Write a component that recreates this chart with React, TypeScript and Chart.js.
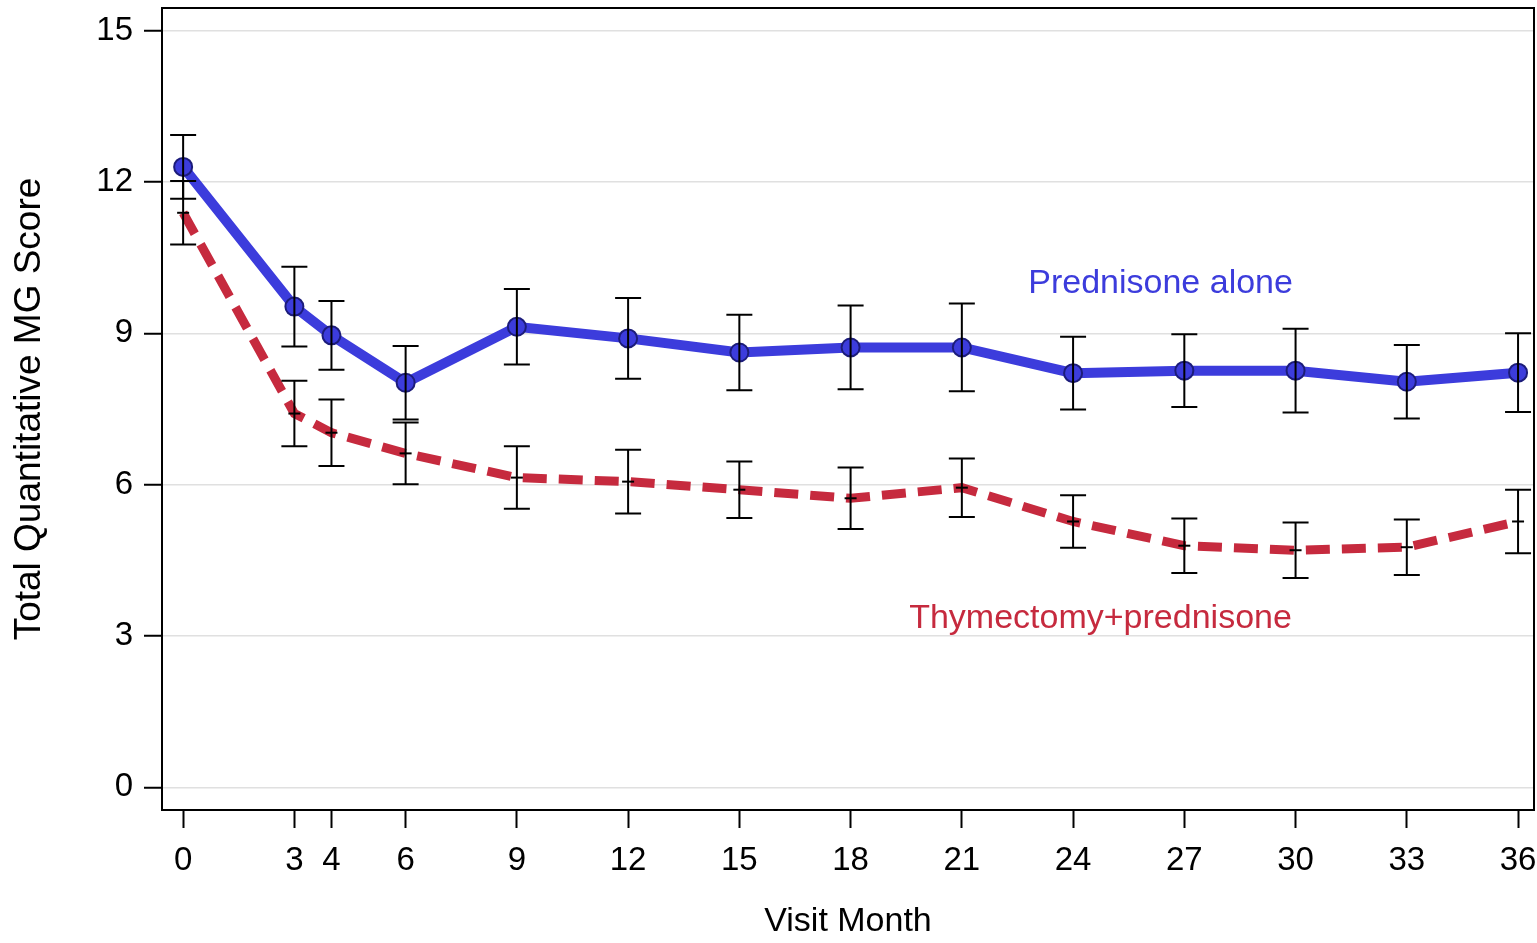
import React, { useEffect, useRef } from "react";
import { Chart, registerables } from "chart.js";

Chart.register(...registerables);

// ---- Data ----
const MONTHS = [0, 3, 4, 6, 9, 12, 15, 18, 21, 24, 27, 30, 33, 36];
const PRED_MEAN = [12.3, 9.53, 8.96, 8.02, 9.13, 8.9, 8.62, 8.72, 8.72, 8.21, 8.26, 8.26, 8.04, 8.22];
const PRED_ERR = [0.63, 0.79, 0.68, 0.73, 0.75, 0.8, 0.75, 0.83, 0.87, 0.72, 0.72, 0.83, 0.73, 0.78];
const THY_MEAN = [11.39, 7.41, 7.03, 6.62, 6.14, 6.06, 5.9, 5.73, 5.94, 5.27, 4.79, 4.7, 4.76, 5.27];
const THY_ERR = [0.63, 0.65, 0.66, 0.61, 0.62, 0.63, 0.56, 0.61, 0.58, 0.52, 0.54, 0.55, 0.55, 0.63];
const X_TICKS = [0, 3, 4, 6, 9, 12, 15, 18, 21, 24, 27, 30, 33, 36];
const Y_TICKS = [0, 3, 6, 9, 12, 15];

const SERIES_NAMES = ["Prednisone alone", "Thymectomy+prednisone"];
const LABEL_X = [26.36, 24.74];
const LABEL_Y = [9.99, 3.35];

const BLUE = "#3c3cdc";
const RED = "#c62a3e";
const FONT = "'Liberation Sans', Arial, sans-serif";

const errorBarPlugin = {
  id: "errorBars",
  afterDatasetsDraw(chart: any) {
    const { ctx, scales } = chart;
    const x = scales.x;
    const y = scales.y;
    ctx.save();
    ctx.strokeStyle = "#000";
    ctx.lineWidth = 2;
    const groups: [number[], number[]][] = [
      [PRED_MEAN, PRED_ERR],
      [THY_MEAN, THY_ERR],
    ];
    groups.forEach(([m, e]) => {
      MONTHS.forEach((mo, i) => {
        const px = x.getPixelForValue(mo);
        const top = y.getPixelForValue(m[i] + e[i]);
        const bot = y.getPixelForValue(m[i] - e[i]);
        ctx.beginPath();
        ctx.moveTo(px, top);
        ctx.lineTo(px, bot);
        ctx.moveTo(px - 13, top);
        ctx.lineTo(px + 13, top);
        ctx.moveTo(px - 13, bot);
        ctx.lineTo(px + 13, bot);
        ctx.stroke();
      });
    });
    ctx.restore();
  },
  afterDraw(chart: any) {
    const { ctx, chartArea, scales } = chart;
    ctx.save();
    ctx.strokeStyle = "#000";
    ctx.lineWidth = 2;
    ctx.strokeRect(chartArea.left, chartArea.top, chartArea.right - chartArea.left, chartArea.bottom - chartArea.top);
    ctx.font = `34px ${FONT}`;
    ctx.textAlign = "center";
    ctx.textBaseline = "middle";
    const colors = [BLUE, RED];
    SERIES_NAMES.forEach((name, i) => {
      ctx.fillStyle = colors[i];
      ctx.fillText(name, scales.x.getPixelForValue(LABEL_X[i]), scales.y.getPixelForValue(LABEL_Y[i]));
    });
    ctx.restore();
  },
};

export default function App() {
  const ref = useRef<HTMLCanvasElement | null>(null);
  useEffect(() => {
    document.body.style.margin = "0";
    const canvas = ref.current;
    if (!canvas) return;
    const chart = new Chart(canvas, {
      type: "line",
      data: {
        datasets: [
          {
            label: SERIES_NAMES[0],
            data: MONTHS.map((m, i) => ({ x: m, y: PRED_MEAN[i] })),
            borderColor: BLUE,
            borderWidth: 10,
            backgroundColor: BLUE,
            pointRadius: 9,
            pointBorderColor: "#1c1c7a",
            pointBorderWidth: 2,
            pointBackgroundColor: BLUE,
            tension: 0,
          },
          {
            label: SERIES_NAMES[1],
            data: MONTHS.map((m, i) => ({ x: m, y: THY_MEAN[i] })),
            borderColor: RED,
            borderWidth: 9,
            borderDash: [24, 12],
            backgroundColor: RED,
            pointStyle: "line",
            pointRadius: 6,
            pointBorderColor: "#000",
            pointBorderWidth: 2,
            tension: 0,
          },
        ],
      },
      options: {
        animation: false,
        responsive: false,
        maintainAspectRatio: false,
        layout: { padding: { left: 0, top: 0, right: 0, bottom: 0 } },
        plugins: { legend: { display: false }, tooltip: { enabled: false } },
        scales: {
          x: {
            type: "linear",
            min: -0.57,
            max: 36.43,
            afterBuildTicks: (s: any) => {
              s.ticks = X_TICKS.map((v) => ({ value: v }));
            },
            afterFit: (s: any) => {
              s.height = 133;
              s.paddingLeft = 0;
              s.paddingRight = 0;
            },
            border: { display: false },
            grid: { drawOnChartArea: false, tickLength: 18, tickColor: "#000", tickWidth: 2, color: "#000" },
            ticks: { autoSkip: false, maxRotation: 0, minRotation: 0, padding: 13, color: "#000", font: { family: FONT, size: 33 } },
            title: { display: true, text: "Visit Month", color: "#000", font: { family: FONT, size: 34 }, padding: { top: 0, bottom: 1 } },
          },
          y: {
            type: "linear",
            min: -0.45,
            max: 15.45,
            afterBuildTicks: (s: any) => {
              s.ticks = Y_TICKS.map((v) => ({ value: v }));
            },
            afterFit: (s: any) => {
              s.width = 162;
              s.paddingTop = 0;
              s.paddingBottom = 0;
            },
            border: { display: false },
            grid: { color: "#e0e0e0", lineWidth: 1.5, tickLength: 18, tickColor: "#000", tickWidth: 2 },
            ticks: { padding: 11, color: "#000", font: { family: FONT, size: 33 } },
            title: { display: true, text: "Total Quantitative MG Score", color: "#000", font: { family: FONT, size: 37 }, padding: { top: 8, bottom: 0 } },
          },
        },
      },
      plugins: [errorBarPlugin],
    });
    return () => chart.destroy();
  }, []);
  return (
    <div style={{ width: 1537, height: 943, overflow: "hidden" }}>
      <canvas ref={ref} width={1545} height={946} style={{ display: "block", marginTop: -3 }} />
    </div>
  );
}
